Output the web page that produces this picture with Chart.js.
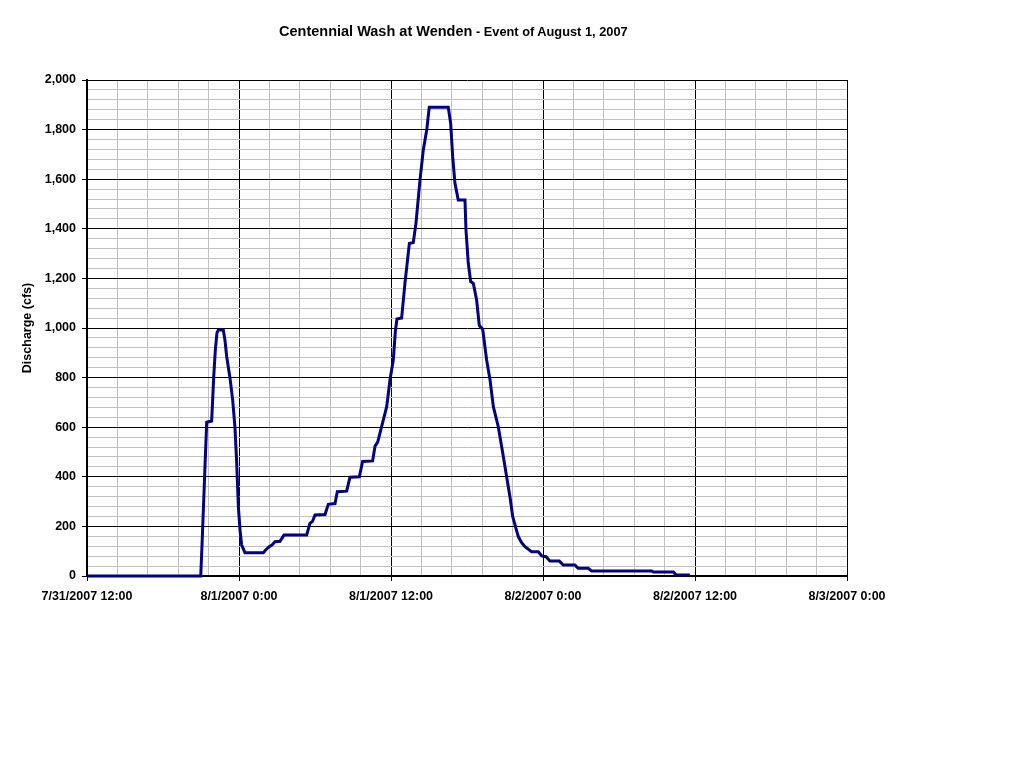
<!DOCTYPE html>
<html>
<head>
<meta charset="utf-8">
<script src="https://cdn.jsdelivr.net/npm/chart.js@4/dist/chart.umd.min.js"></script>
<style>
  body { margin: 0; background: #fff; }
  #wrap { position: relative; width: 1024px; height: 768px; }
  #title {
    position: absolute; left: 279px; top: 23px;
    font-family: "Liberation Sans", Arial, sans-serif; font-weight: bold;
    color: #000; white-space: nowrap; line-height: 16px;
  }
  #title .main { font-size: 14.5px; }
  #title .sub { font-size: 12.8px; }
</style>
</head>
<body>
<div id="wrap">
  <canvas id="chart" width="1024" height="768"></canvas>
  <div id="title"><span class="main">Centennial Wash at Wenden</span><span class="sub"> - Event of August 1, 2007</span></div>
</div>
<script>
// hours since 7/31/2007 12:00
const hoursSinceStart = [
  0, 8.98, 9.1, 9.3, 9.45, 9.84, 9.92, 10.0, 10.13, 10.26, 10.36, 10.76,
  10.89, 11.03, 11.29, 11.5, 11.68, 11.82, 11.95, 12.08, 12.21, 12.47, 13.92,
  14.1, 14.39, 14.6, 14.84, 15.24, 15.55, 17.34, 17.6, 17.8, 18.0, 18.79,
  19.05, 19.58, 19.76, 20.5, 20.76, 21.5, 21.76, 22.55, 22.74, 22.95, 23.26,
  23.66, 23.92, 24.18, 24.35, 24.47, 24.84, 25.1, 25.45, 25.76, 25.97, 26.29,
  26.55, 26.82, 27.02, 28.52, 28.71, 28.87, 29.05, 29.31, 29.84, 29.92, 30.1,
  30.29, 30.5, 30.76, 30.97, 31.24, 31.55, 31.82, 32.08, 32.47, 32.87, 33.13,
  33.39, 33.61, 34.05, 34.3, 34.58, 35.1, 35.63, 35.9, 36.24, 36.55, 37.29,
  37.6, 38.52, 38.78, 39.58, 39.84, 44.58, 44.71, 46.3, 46.5, 47.6
];
const dischargeCfs = [
  0, 0, 150, 420, 620, 625, 710, 800, 910, 980, 992, 992,
  952, 884, 798, 710, 600, 455, 280, 185, 125, 94, 94,
  105, 118, 125, 138, 140, 165, 165, 212, 220, 246, 248,
  289, 292, 340, 342, 398, 400, 462, 464, 524, 540, 602,
  683, 790, 871, 990, 1036, 1040, 1180, 1341, 1345, 1422, 1597,
  1718, 1798, 1890, 1890, 1825, 1691, 1583, 1516, 1516, 1395, 1261,
  1187, 1180, 1113, 1010, 995, 871, 790, 683, 602, 481, 400,
  320, 239, 159, 135, 118, 98, 98, 81, 78, 60, 60,
  44, 44, 31, 31, 20, 20, 16, 16, 4, 4
];
const xTickLabels = [
  "7/31/2007 12:00", "8/1/2007 0:00", "8/1/2007 12:00",
  "8/2/2007 0:00", "8/2/2007 12:00", "8/3/2007 0:00"
];

const points = hoursSinceStart.map((h, i) => ({ x: h, y: dischargeCfs[i] }));

Chart.defaults.font.family = '"Liberation Sans", Arial, sans-serif';
Chart.defaults.font.size = 12.5;
Chart.defaults.font.weight = "bold";
Chart.defaults.color = "#000";

const minorGray = "#c0c0c0";

new Chart(document.getElementById("chart").getContext("2d"), {
  type: "line",
  data: {
    datasets: [{
      data: points,
      borderColor: "#000080",
      borderWidth: 3,
      pointRadius: 0,
      tension: 0,
      fill: false,
      clip: false,
    }],
  },
  options: {
    responsive: false,
    animation: false,
    layout: { padding: { top: 80, right: 177, left: 0, bottom: 0 } },
    plugins: { legend: { display: false }, tooltip: { enabled: false } },
    scales: {
      x: {
        type: "linear",
        min: 0,
        max: 60,
        afterBuildTicks: (scale) => {
          scale.ticks = Array.from({ length: 26 }, (_, i) => ({ value: i * 2.4 }));
        },
        afterFit: (scale) => { scale.height = 192; },
        ticks: {
          autoSkip: false,
          maxRotation: 0,
          padding: 8,
          callback: (value, index) => (index % 5 === 0 ? xTickLabels[index / 5] : ""),
        },
        grid: {
          color: (c) => (c.index % 5 === 0 ? "#000" : minorGray),
          tickColor: (c) => (c.index % 5 === 0 ? "#000" : "rgba(0,0,0,0)"),
          tickLength: 5,
          lineWidth: 1,
        },
        border: { color: "#000", width: 2 },
      },
      y: {
        min: 0,
        max: 2000,
        afterFit: (scale) => { scale.width = 87; },
        ticks: {
          stepSize: 40,
          autoSkip: false,
          padding: 6,
          callback: (value) => (value % 200 === 0 ? value.toLocaleString("en-US") : ""),
        },
        grid: {
          color: (c) => (c.tick && c.tick.value % 200 === 0 ? "#000" : minorGray),
          tickColor: (c) => (c.tick && c.tick.value % 200 === 0 ? "#000" : "rgba(0,0,0,0)"),
          tickLength: 5,
          lineWidth: 1,
        },
        border: { color: "#000", width: 2 },
        title: {
          display: true,
          text: "Discharge (cfs)",
          font: { size: 12.5, weight: "bold" },
          padding: { top: 20, bottom: 0 },
        },
      },
    },
  },
});
</script>
</body>
</html>
